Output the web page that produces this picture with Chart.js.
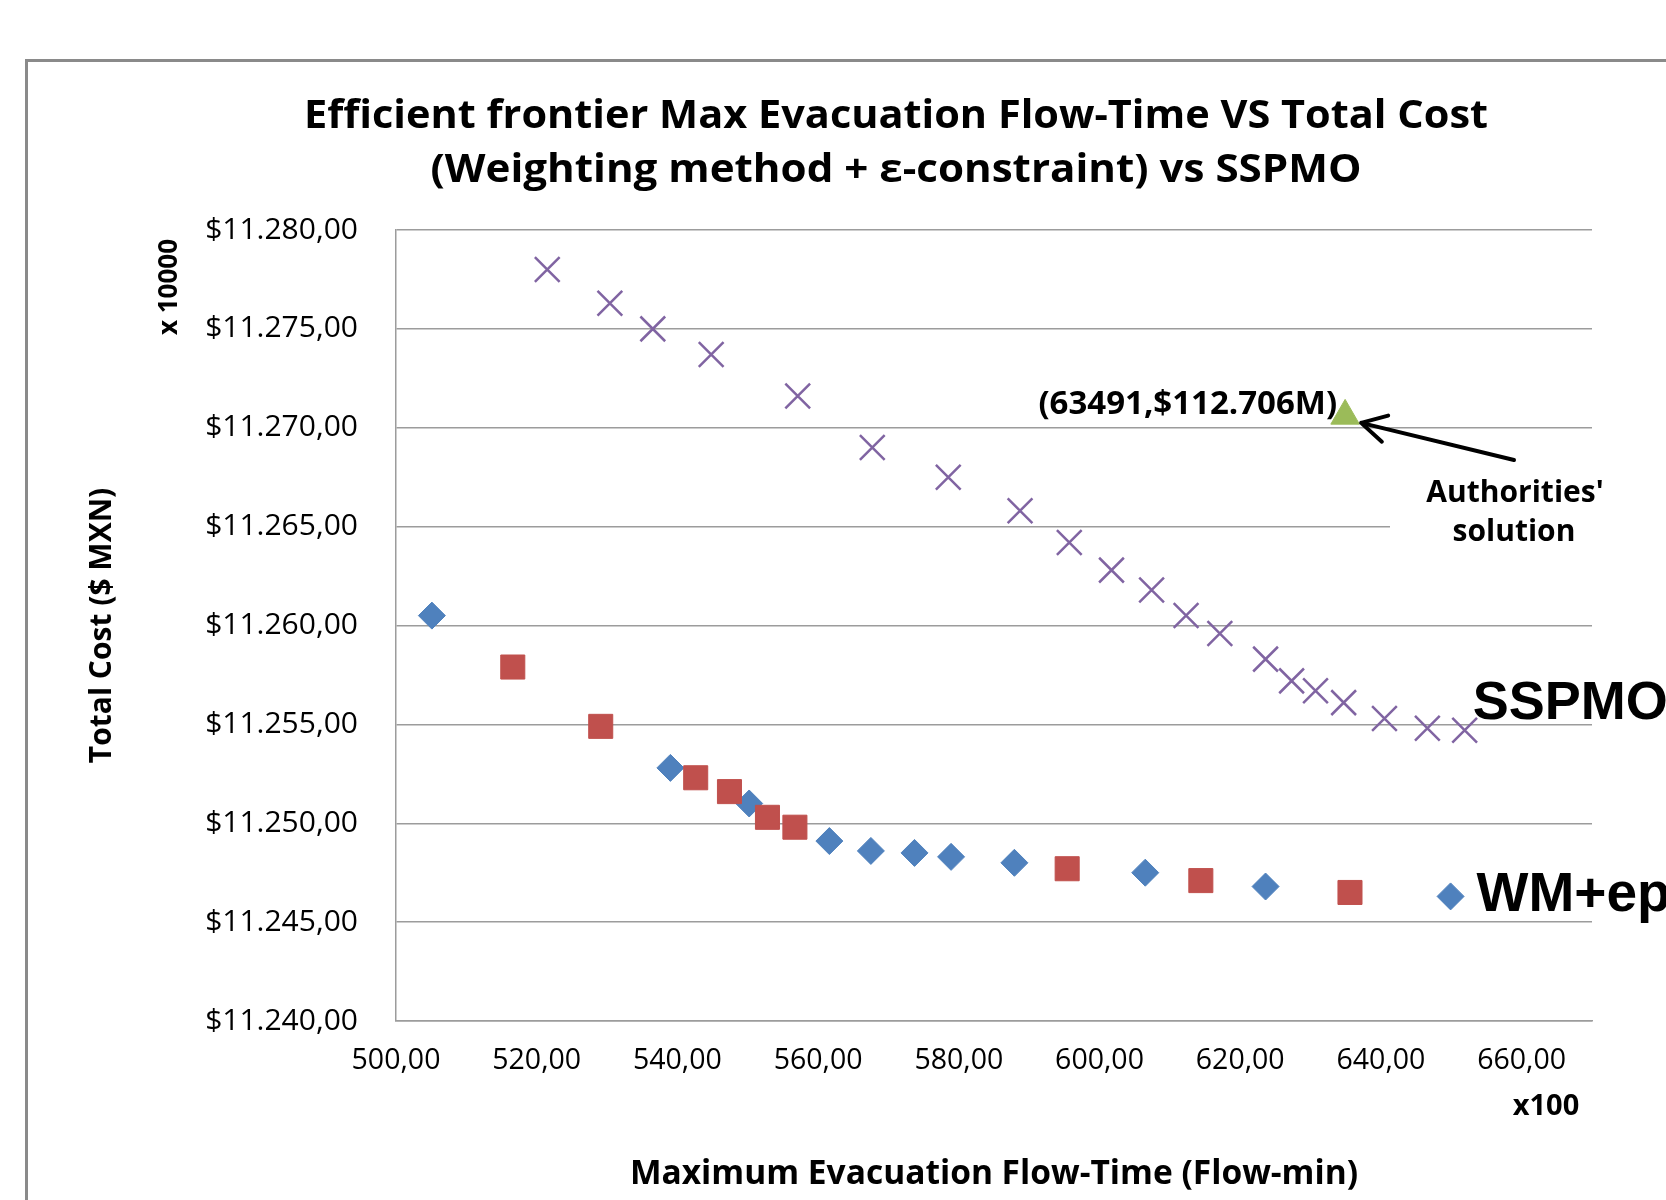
<!DOCTYPE html>
<html>
<head>
<meta charset="utf-8">
<script src="https://cdn.jsdelivr.net/npm/chart.js@4.4.1/dist/chart.umd.min.js"></script>
<style>
  html, body { margin: 0; padding: 0; background: #ffffff; }
  canvas { display: block; }
</style>
</head>
<body>
<canvas id="frontier" width="1666" height="1200"></canvas>
<script>
// Flow-time in hundreds of flow-min, total cost in units of $10,000.
const wmFlow = [505.1, 539.0, 550.2, 561.6, 567.5, 573.7, 578.9, 587.9, 606.5, 623.6, 649.9];
const wmCost = [11260.5, 11252.8, 11251.0, 11249.1, 11248.6, 11248.5, 11248.3, 11248.0, 11247.5, 11246.8, 11246.3];

const epsFlow = [516.6, 529.1, 542.6, 547.4, 552.8, 556.7, 595.4, 614.4, 635.6];
const epsCost = [11257.9, 11254.9, 11252.3, 11251.6, 11250.3, 11249.8, 11247.7, 11247.1, 11246.5];

const sspmoFlow = [521.5, 530.4, 536.5, 544.8, 557.1, 567.7, 578.5, 588.7, 595.7, 601.7,
                   607.4, 612.3, 617.1, 623.6, 627.3, 630.7, 634.7, 640.5, 646.6, 651.9];
const sspmoCost = [11278.0, 11276.3, 11275.0, 11273.7, 11271.6, 11269.0, 11267.5, 11265.8, 11264.2, 11262.8,
                   11261.8, 11260.5, 11259.6, 11258.3, 11257.2, 11256.7, 11256.1, 11255.3, 11254.8, 11254.7];

const authorityFlow = [634.91];
const authorityCost = [11270.6];

const xTicks = [500, 520, 540, 560, 580, 600, 620, 640, 660];
const yTicks = [11240, 11245, 11250, 11255, 11260, 11265, 11270, 11275, 11280];

const titleLines = [
  'Efficient frontier Max Evacuation Flow-Time VS Total Cost',
  '(Weighting method + \u03B5-constraint) vs SSPMO'
];

const GRID = '#9c9c9c';
const FONT = "'Open Sans', sans-serif";

const pts = (xs, ys) => xs.map((x, i) => ({ x, y: ys[i] }));

function fmtMoney(v) {
  const [i, d] = v.toFixed(2).split('.');
  return '$' + i.replace(/\B(?=(\d{3})+(?!\d))/g, '.') + ',' + d;
}
const fmtFlow = v => v.toFixed(2).replace('.', ',');

// Draws text centred on cx, scaled horizontally to the given width.
function fitText(ctx, text, cx, baseline, width, font) {
  ctx.font = font;
  const w = ctx.measureText(text).width;
  ctx.save();
  ctx.translate(cx, baseline);
  ctx.scale(width / w, 1);
  ctx.textAlign = 'center';
  ctx.textBaseline = 'alphabetic';
  ctx.fillText(text, 0, 0);
  ctx.restore();
}

const decorations = {
  id: 'decorations',
  afterDraw(chart) {
    const { ctx, scales: { x, y } } = chart;
    ctx.save();

    // outer frame
    ctx.strokeStyle = '#8a8a8a';
    ctx.lineWidth = 3;
    ctx.beginPath();
    ctx.moveTo(26.5, 1200);
    ctx.lineTo(26.5, 60.5);
    ctx.lineTo(1666, 60.5);
    ctx.stroke();

    // chart title
    ctx.fillStyle = '#000';
    fitText(ctx, titleLines[0], 896, 128, 1184, `bold 39px ${FONT}`);
    fitText(ctx, titleLines[1], 896, 182, 931, `bold 39px ${FONT}`);

    // display units
    ctx.save();
    ctx.translate(170, 287);
    ctx.rotate(-Math.PI / 2);
    ctx.font = `bold 26px ${FONT}`;
    ctx.textAlign = 'center';
    ctx.textBaseline = 'middle';
    ctx.fillText('x 10000', 0, 0);
    ctx.restore();

    ctx.font = `bold 29px ${FONT}`;
    ctx.textAlign = 'center';
    ctx.textBaseline = 'middle';
    ctx.fillText('x100', x.right - 46, 1107);

    // authorities' solution: value label, callout box and arrow
    const ax = x.getPixelForValue(authorityFlow[0]);
    const ay = y.getPixelForValue(authorityCost[0]);
    const label = `(${Math.round(authorityFlow[0] * 100)},$${(authorityCost[0] / 100).toFixed(3)}M)`;
    ctx.font = `bold 33px ${FONT}`;
    ctx.textAlign = 'right';
    ctx.textBaseline = 'alphabetic';
    ctx.fillText(label, ax - 8, ay - 2);

    ctx.fillStyle = '#ffffff';
    ctx.fillRect(1390, 462, 212, 90);
    ctx.fillStyle = '#000';
    ctx.font = `bold 30px ${FONT}`;
    ctx.textAlign = 'center';
    ctx.fillText("Authorities'", 1515, 502);
    ctx.fillText('solution', 1514, 541);

    const tipX = ax + 16, tipY = ay + 7;
    const tailX = 1514, tailY = 460;
    const ang = Math.atan2(tailY - tipY, tailX - tipX);
    ctx.strokeStyle = '#000';
    ctx.lineWidth = 4;
    ctx.lineCap = 'round';
    ctx.lineJoin = 'round';
    ctx.beginPath();
    ctx.moveTo(tailX, tailY);
    ctx.lineTo(tipX, tipY);
    ctx.moveTo(tipX + 28 * Math.cos(ang - 0.5), tipY + 28 * Math.sin(ang - 0.5));
    ctx.lineTo(tipX, tipY);
    ctx.lineTo(tipX + 28 * Math.cos(ang + 0.5), tipY + 28 * Math.sin(ang + 0.5));
    ctx.stroke();

    // series labels
    const n = sspmoFlow.length - 1;
    const sx = x.getPixelForValue(sspmoFlow[n]);
    const sy = y.getPixelForValue(sspmoCost[n]);
    ctx.textAlign = 'left';
    ctx.font = "bold 54px 'Liberation Sans', Arial, sans-serif";
    ctx.fillText('SSPMO', sx + 8, sy - 11);

    const m = wmFlow.length - 1;
    const wx = x.getPixelForValue(wmFlow[m]);
    const wy = y.getPixelForValue(wmCost[m]);
    ctx.font = "bold 55px 'Liberation Sans', Arial, sans-serif";
    ctx.fillText('WM+ep', wx + 26, wy + 15);

    ctx.restore();
  }
};

new Chart(document.getElementById('frontier'), {
  type: 'scatter',
  data: {
    datasets: [
      {
        label: 'SSPMO',
        data: pts(sspmoFlow, sspmoCost),
        pointStyle: 'crossRot',
        pointRadius: 17.5,
        borderColor: '#8064A2',
        backgroundColor: '#8064A2',
        pointBorderWidth: 2.5,
        order: 1
      },
      {
        label: "Authorities' solution",
        data: pts(authorityFlow, authorityCost),
        pointStyle: 'triangle',
        pointRadius: 16.5,
        borderColor: '#9BBB59',
        backgroundColor: '#9BBB59',
        pointBorderWidth: 1,
        order: 1
      },
      {
        label: '\u03B5-constraint',
        data: pts(epsFlow, epsCost),
        pointStyle: 'rect',
        pointRadius: 17,
        borderColor: '#C0504D',
        backgroundColor: '#C0504D',
        pointBorderWidth: 1,
        order: 2
      },
      {
        label: 'Weighting method',
        data: pts(wmFlow, wmCost),
        pointStyle: 'rectRot',
        pointRadius: 13.5,
        borderColor: '#4F81BD',
        backgroundColor: '#4F81BD',
        pointBorderWidth: 1,
        order: 3
      }
    ]
  },
  options: {
    responsive: false,
    animation: false,
    events: [],
    layout: { padding: { left: 0, right: 74, top: 230, bottom: 0 } },
    plugins: {
      legend: { display: false },
      tooltip: { enabled: false },
      title: { display: false }
    },
    scales: {
      x: {
        type: 'linear',
        min: 500,
        max: 670,
        afterBuildTicks: s => { s.ticks = xTicks.map(v => ({ value: v })); },
        afterFit: s => { s.height = 179; },
        grid: { display: false, drawTicks: false },
        border: { display: true, color: GRID, width: 1.5 },
        ticks: {
          padding: 23,
          color: '#000',
          font: { family: FONT, size: 28.5 },
          maxRotation: 0,
          autoSkip: false,
          callback: v => fmtFlow(v)
        },
        title: {
          display: true,
          text: 'Maximum Evacuation Flow-Time (Flow-min)',
          color: '#000',
          font: { family: FONT, size: 33.5, weight: 'bold' },
          padding: { top: 0, bottom: 5 }
        }
      },
      y: {
        type: 'linear',
        min: 11240,
        max: 11280,
        afterBuildTicks: s => { s.ticks = yTicks.map(v => ({ value: v })); },
        afterFit: s => { s.width = 396; },
        grid: { color: GRID, lineWidth: 1.5, drawTicks: false },
        border: { display: true, color: GRID, width: 1.5 },
        ticks: {
          padding: 38,
          color: '#000',
          font: { family: FONT, size: 30 },
          callback: v => fmtMoney(v)
        },
        title: {
          display: true,
          text: 'Total Cost ($ MXN)',
          color: '#000',
          font: { family: FONT, size: 30, weight: 'bold' },
          padding: { top: 84, bottom: 0 }
        }
      }
    }
  },
  plugins: [decorations]
});
</script>
</body>
</html>
